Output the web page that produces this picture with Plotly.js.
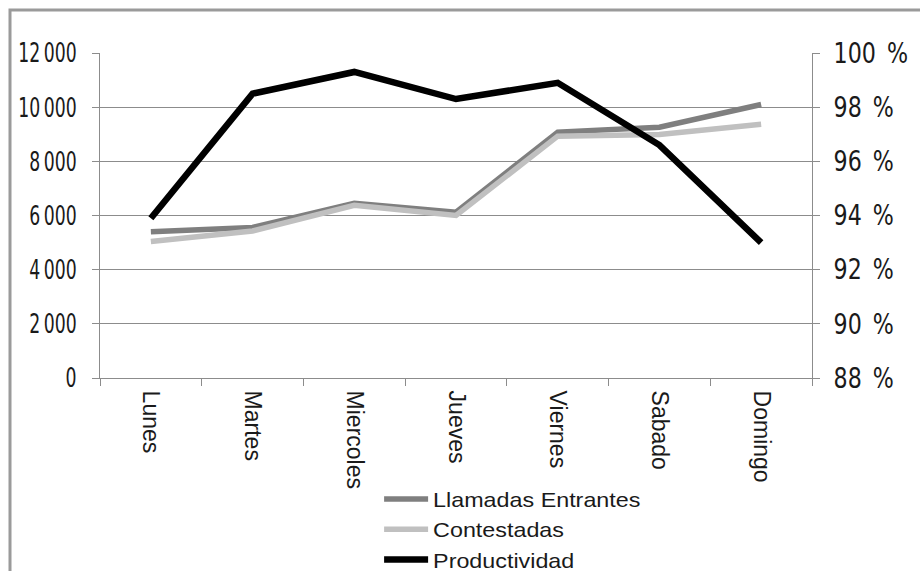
<!DOCTYPE html>
<html>
<head>
<meta charset="utf-8">
<script src="https://cdn.plot.ly/plotly-3.0.1.min.js"></script>
<style>
  html, body { margin: 0; padding: 0; background: #ffffff; }
  #chart { width: 920px; height: 571px; }
</style>
</head>
<body>
<div id="chart"></div>
<script>
// Days of the week
const dias = ['Lunes', 'Martes', 'Miercoles', 'Jueves', 'Viernes', 'Sabado', 'Domingo'];

// Incoming calls and answered calls per day
const llamadasEntrantes = [5400, 5560, 6450, 6120, 9080, 9260, 10100];
const contestadas = [5040, 5430, 6380, 6000, 8930, 8990, 9370];

// Productivity (%) per day, right axis
const productividad = [93.9, 98.5, 99.3, 98.3, 98.9, 96.6, 93.0];

// Axis ticks
const ticksLlamadas = [0, 2000, 4000, 6000, 8000, 10000, 12000];
const etiquetasLlamadas = ['0', '2\u2009000', '4\u2009000', '6\u2009000', '8\u2009000', '10\u2009000', '12\u2009000'];
const ticksProductividad = [88, 90, 92, 94, 96, 98, 100];
const etiquetasProductividad = ['88\u2002%', '90\u2002%', '92\u2002%', '94\u2002%', '96\u2002%', '98\u2002%', '100\u2002%'];

const condensed = '"DejaVu Sans Condensed", "DejaVu Sans", sans-serif';
const sans = '"Liberation Sans", Arial, sans-serif';
const gridGray = '#8c8c8c';

const traces = [
  {
    x: dias, y: llamadasEntrantes, name: 'Llamadas Entrantes',
    type: 'scatter', mode: 'lines',
    line: { color: '#7f7f7f', width: 5.5 }
  },
  {
    x: dias, y: contestadas, name: 'Contestadas',
    type: 'scatter', mode: 'lines',
    line: { color: '#c0c0c0', width: 5.5 }
  },
  {
    x: dias, y: productividad, name: 'Productividad',
    type: 'scatter', mode: 'lines', yaxis: 'y2',
    line: { color: '#000000', width: 6.5 }
  }
];

const layout = {
  width: 920,
  height: 571,
  margin: { l: 100, r: 108, t: 53, b: 193, autoexpand: false },
  paper_bgcolor: '#ffffff',
  plot_bgcolor: '#ffffff',
  showlegend: true,
  legend: {
    x: 0.392, xanchor: 'left',
    y: -0.31, yanchor: 'top',
    font: { family: sans, size: 21, color: '#1a1a1a' },
    bgcolor: 'rgba(0,0,0,0)',
    itemwidth: 44,
    tracegroupgap: 0
  },
  xaxis: {
    type: 'category',
    tickangle: 90,
    tickson: 'boundaries',
    ticks: 'outside',
    ticklen: 7,
    tickcolor: gridGray,
    showline: true,
    linecolor: gridGray,
    linewidth: 1,
    showgrid: false,
    zeroline: false,
    ticklabelstandoff: 7,
    tickfont: { family: sans, size: 23, color: '#1a1a1a' },
    range: [-0.5, 6.5]
  },
  yaxis: {
    range: [0, 12000],
    tickmode: 'array',
    tickvals: ticksLlamadas,
    ticktext: etiquetasLlamadas,
    ticks: 'outside',
    ticklen: 7,
    tickcolor: gridGray,
    showline: true,
    linecolor: gridGray,
    linewidth: 1,
    showgrid: true,
    gridcolor: gridGray,
    gridwidth: 1,
    zeroline: false,
    ticklabelstandoff: 10,
    tickfont: { family: condensed, size: 27, color: '#1a1a1a' }
  },
  yaxis2: {
    overlaying: 'y',
    side: 'right',
    range: [88, 100],
    tickmode: 'array',
    tickvals: ticksProductividad,
    ticktext: etiquetasProductividad,
    ticks: 'outside',
    ticklen: 7,
    tickcolor: gridGray,
    showline: true,
    linecolor: gridGray,
    linewidth: 1,
    showgrid: false,
    zeroline: false,
    ticklabelstandoff: 8,
    tickfont: { family: condensed, size: 28, color: '#1a1a1a' }
  },
  shapes: [
    {
      type: 'rect', xref: 'paper', yref: 'paper',
      x0: -0.1264, x1: 2, y0: -2, y1: 1.1323,
      line: { color: '#9a9a9a', width: 3 },
      fillcolor: 'rgba(0,0,0,0)',
      layer: 'below'
    }
  ]
};

// Stretch or narrow text horizontally to a fraction of its natural width
function fitText(gd, selector, factor) {
  gd.querySelectorAll(selector).forEach(function (t) {
    const w = t.getComputedTextLength();
    if (w > 0) {
      t.setAttribute('textLength', (w * factor).toFixed(1));
      t.setAttribute('lengthAdjust', 'spacingAndGlyphs');
    }
  });
}

Plotly.newPlot('chart', traces, layout, { displayModeBar: false, staticPlot: true })
  .then(function (gd) {
    fitText(gd, 'g.ytick text', 0.71);
    fitText(gd, 'g.y2tick text', 0.88);
    fitText(gd, 'g.legend text.legendtext', 1.11);
    // let the widened legend labels show in full
    gd.querySelectorAll('g.legend [clip-path]').forEach(function (el) {
      el.removeAttribute('clip-path');
    });
  });
</script>
</body>
</html>
